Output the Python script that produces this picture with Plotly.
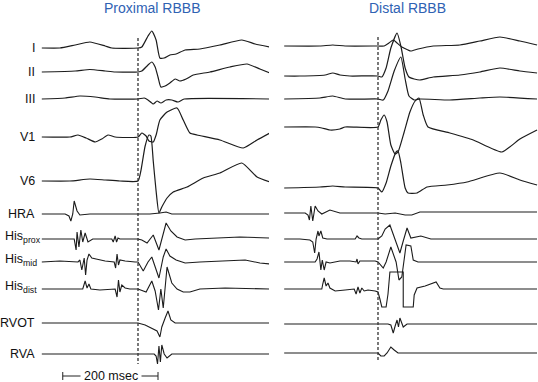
import plotly.graph_objects as go

# ---------------- DATA ----------------
LEAD_LABELS = ["I", "II", "III", "V1", "V6", "HRA",
               "His<sub>prox</sub>", "His<sub>mid</sub>", "His<sub>dist</sub>", "RVOT", "RVA"]
PANEL_TITLES = ["Proximal RBBB", "Distal RBBB"]
SCALE_BAR_MS = 200
SCALE_BAR_START_MS = -158
SCALE_BAR_TEXT = "200 msec"

# Proximal RBBB (time in ms relative to dashed line, amplitude in arbitrary units)
PROX_I_T = [-202, -164, -132, -101, -69, -55, 0, 8, 21, 29, 38, 46, 55, 67, 80, 99, 130, 172, 218, 246, 277]
PROX_I_V = [0, 0, 3, 6, 2, 0, 0, 1, 12, 17, 8, -10, -10, -7, -6, -2, -1, 3, 8, 4, 1]
PROX_II_T = [-202, -132, -101, -69, -48, 0, 8, 21, 29, 36, 42, 48, 57, 67, 78, 88, 101, 116, 151, 193, 229, 256, 277]
PROX_II_V = [0, 1, 2.5, 1, 0, 0, 1, 7, 10, 5, -5, -15, -14, -11, -7, -9, -7, -3, 0, 5, 8, 3, -1]
PROX_III_T = [-202, -153, -122, -90, -59, 0, 13, 21, 32, 40, 48, 59, 71, 84, 97, 277]
PROX_III_V = [0, 1, 3, 2, 0, 0, 1, -1, -5, -2, -4, -1, -1, -3, 0, 0]
PROX_V1_T = [-202, -143, -126, -109, -90, -76, -63, -48, 0, 8, 17, 23, 32, 38, 46, 61, 82, 95, 109, 124, 172, 221, 250, 277]
PROX_V1_V = [0, 0, 2, -1, -5, -2, 2, 0, 0, 4, 1, -4, -5, 2, 17, 25, 29, 17, 4, 2, -3, -11, -3, 4]
PROX_V6_T = [-202, -143, -101, -69, -38, 0, 6, 15, 23, 27, 32, 38, 44, 50, 61, 74, 103, 137, 172, 218, 250, 277]
PROX_V6_V = [0, 0, 2, 1, 0, 0, 10, 35, 46, 45, 20, -10, -32, -26, -17, -11, -6, 3, 8, 18, 4, -1]
PROX_HRA_T = [-202, -153, -145, -141, -137, -134, -128, -122, -101, 25, 46, 59, 71, 277]
PROX_HRA_V = [0, 0, -2, -7, 0, 13, 3, -1, 0, 0, 1, 2, 0, 0]
PROX_HISP_T = [-202, -164, -134, -130, -128, -124, -120, -116, -111, -105, -95, -55, -52, -48, -45, -42, -38,
               0, 8, 19, 32, 44, 59, 69, 82, 99, 120, 214, 277]
PROX_HISP_V = [0, 0, 0, -11, 7, -8, 9, -3, 6, -3, 0, 0, -3, 3, -3, 1, 0,
               0, -1, -4, 4, -11, 16, 8, 2, -1, 0, 2, 1]
PROX_HISM_T = [-202, -164, -126, -122, -118, -113, -110, -107, -103, -97, -88, -69, -50, -47, -44, -41, -38, -27, -6,
               0, 11, 21, 29, 38, 44, 53, 59, 67, 80, 99, 130, 225, 256, 277]
PROX_HISM_V = [0, 1, 0, 2, -8, 4, -13, 2, 8, 4, 3, 1, 0, -6, 8, -3, 2, 1, 0,
               0, -9, 0, 5, -8, -16, 5, 13, 6, 2, -1, 0, 2, -1, -2]
PROX_HISD_T = [-202, -122, -116, -111, -107, -103, -99, -80, -48, -44, -41, -38, -34, -27, -17,
               0, 17, 29, 36, 43, 48, 53, 61, 71, 82, 95, 109, 130, 183, 277]
PROX_HISD_V = [0, 0, 0, 8, 1, 5, 0, -1, 0, -8, 9, -3, 4, 1, 0,
               0, -3, 8, -2, -21, 0, -19, 22, 6, 0, -3, -3, 0, 1, 0]
PROX_RVOT_T = [-202, 0, 15, 29, 40, 46, 50, 57, 63, 69, 78, 277]
PROX_RVOT_V = [0, 0, -2, -5, -8, -14, -4, 5, 12, 3, 0, 0]
PROX_RVA_T = [-202, 34, 38, 41, 44, 47, 50, 55, 61, 71, 277]
PROX_RVA_V = [0, 0, -2, -10, 8, -8, 9, 0, -4, 0, 0]

# Distal RBBB
DIST_I_T = [-197, -122, -95, -69, 0, 13, 23, 32, 40, 50, 63, 69, 84, 116, 172, 214, 256, 298, 334]
DIST_I_V = [0, 0, 1, 0, 0, 0, 3, 6, 3, -1, -4, -5, -3, 0, 1, 5, 9, 5, 1]
DIST_II_T = [-197, -164, -111, -95, -80, -59, 0, 8, 17, 27, 40, 48, 57, 65, 76, 88, 116, 172, 214, 256, 298, 334]
DIST_II_V = [0, 0, 1, 3, 1, 0, 0, -1, 8, 28, 43, 30, 8, -1, -3, -4, -1, 1, 4, 8, 5, 3]
DIST_III_T = [-197, -122, -95, -69, 0, 11, 21, 34, 48, 57, 65, 76, 88, 151, 214, 256, 334]
DIST_III_V = [0, 1, 3, 0, 0, -1, 8, 28, 42, 20, 3, -1, 0, -1, 1, 2, 0]
DIST_V1_T = [-197, -132, -118, -101, -80, -69, 0, 6, 13, 19, 27, 36, 42, 55, 67, 78, 86, 95, 105, 151, 200, 260, 298, 334]
DIST_V1_V = [0, 0, -1, -3, -2, 0, 0, 7, 12, 5, -18, -27, -25, -5, 15, 26, 29, 12, 0, -6, -13, -25, -12, -3]
DIST_V6_T = [-197, -122, -95, -69, 0, 8, 17, 27, 38, 42, 48, 57, 63, 82, 103, 145, 187, 256, 298, 334]
DIST_V6_V = [0, 1, 2, 1, 0, -4, 5, 22, 36, 37, 25, 0, -5, -5, 1, 3, 6, 15, 8, 3]
DIST_HRA_T = [-197, -153, -147, -144, -141, -137, -132, -126, -118, -101, -80, 0, 15, 36, 57, 71, 88, 334]
DIST_HRA_V = [0, 0, -2, -7, 7, -8, 7, 2, -1, 3, 0, 0, -1, 0, -2, -2, 1, 1]
DIST_HISP_T = [-197, -164, -143, -137, -133, -130, -126, -124, -120, -116, -107, -48, -44, -40, -34,
               0, 8, 15, 25, 36, 46, 53, 61, 69, 80, 90, 111, 334]
DIST_HISP_V = [0, 0, -1, -3, -14, 0, 8, 3, 8, 1, 0, 0, 3, 1, 0,
               0, 3, 10, 14, 0, -14, -2, 11, 1, 2, 3, 0, 0]
DIST_HISM_T = [-197, -164, -132, -128, -124, -120, -117, -113, -109, -101, -80, -59, -46, -44, -42, -38, -27, -6,
               0, 11, 17, 27, 38, 44, 50, 55, 59, 69, 74, 84, 334]
DIST_HISM_V = [0, 0, 0, 3, 10, -8, 2, -8, 0, -1, 1, 1, 0, 3, -2, 1, 1, 1,
               0, -6, 0, 15, 0, -18, -15, 5, 17, 16, 2, 0, 0]
DIST_HISD_T = [-197, -118, -116, -113, -109, -105, -101, -90, -69, -50, -46, -42, -38, -34, -29, -21, -6,
               0, 4, 8, 17, 21, 25, 53, 53, 74, 76, 82, 99, 116, 122, 130, 137, 334]
DIST_HISD_V = [0, 0, 5, 11, 3, 6, 1, -2, -1, 0, -5, 2, -4, 1, -2, -1, -2,
               -3, -10, -18, -18, -5, 17, 17, -18, -18, -6, 1, 3, 6, 7, 1, 0, 0]
DIST_RVOT_T = [-197, 21, 27, 32, 36, 40, 43, 46, 53, 61, 334]
DIST_RVOT_V = [0, 0, -1, -9, -2, 4, -3, 6, -3, 0, 0]
DIST_RVA_T = [-197, 0, 6, 13, 19, 27, 34, 42, 334]
DIST_RVA_V = [0, 0, -3, -3, 0, 6, 3, 0, 0]

# ---------------- LAYOUT HELPERS ----------------
W, H = 538, 382
LEFT_ROW_Y = [48, 72, 99, 137, 181, 214, 239, 262, 289, 323, 354]
RIGHT_ROW_Y = [46, 76, 99, 127, 188, 213, 239, 262, 289, 324, 353]
SURFACE = 5  # first five leads are surface ECG

prox = [(PROX_I_T, PROX_I_V), (PROX_II_T, PROX_II_V), (PROX_III_T, PROX_III_V), (PROX_V1_T, PROX_V1_V),
        (PROX_V6_T, PROX_V6_V), (PROX_HRA_T, PROX_HRA_V), (PROX_HISP_T, PROX_HISP_V),
        (PROX_HISM_T, PROX_HISM_V), (PROX_HISD_T, PROX_HISD_V), (PROX_RVOT_T, PROX_RVOT_V),
        (PROX_RVA_T, PROX_RVA_V)]
dist = [(DIST_I_T, DIST_I_V), (DIST_II_T, DIST_II_V), (DIST_III_T, DIST_III_V), (DIST_V1_T, DIST_V1_V),
        (DIST_V6_T, DIST_V6_V), (DIST_HRA_T, DIST_HRA_V), (DIST_HISP_T, DIST_HISP_V),
        (DIST_HISM_T, DIST_HISM_V), (DIST_HISD_T, DIST_HISD_V), (DIST_RVOT_T, DIST_RVOT_V),
        (DIST_RVA_T, DIST_RVA_V)]

LINE_COLOR = "#1c1c1c"
fig = go.Figure()

for panel, rows, xa in ((prox, LEFT_ROW_Y, "x"), (dist, RIGHT_ROW_Y, "x2")):
    for i, ((t, v), base) in enumerate(zip(panel, rows)):
        if i < SURFACE:
            line = dict(color=LINE_COLOR, width=1.2, shape="spline", smoothing=0.5)
        else:
            line = dict(color=LINE_COLOR, width=1.1, shape="linear")
        fig.add_trace(go.Scatter(
            x=t, y=[a - base for a in v], mode="lines", xaxis=xa, yaxis="y",
            line=line, hoverinfo="skip", showlegend=False))

# scale bar
sb0, sb1 = SCALE_BAR_START_MS, SCALE_BAR_START_MS + SCALE_BAR_MS
SB_Y = 376
fig.add_trace(go.Scatter(
    x=[sb0, sb0, None, sb0, sb1, None, sb1, sb1],
    y=[-SB_Y + 4, -SB_Y - 4, None, -SB_Y, -SB_Y, None, -SB_Y + 4, -SB_Y - 4],
    mode="lines", xaxis="x", yaxis="y", line=dict(color="#222", width=1),
    hoverinfo="skip", showlegend=False))

FONT = "Liberation Sans, Arial, Helvetica, sans-serif"
annotations = []
annotations.append(dict(x=(sb0 + sb1) / 2 + 2, y=-SB_Y, xref="x", yref="y", text=SCALE_BAR_TEXT,
                        showarrow=False, font=dict(family=FONT, size=12.5, color="#111"),
                        bgcolor="white", borderpad=3))
# titles
annotations.append(dict(x=29, y=-8, xref="x", yref="y", text=PANEL_TITLES[0], showarrow=False,
                        font=dict(family=FONT, size=14, color="#2f62b3")))
annotations.append(dict(x=61, y=-8, xref="x2", yref="y", text=PANEL_TITLES[1], showarrow=False,
                        font=dict(family=FONT, size=14, color="#2f62b3")))
# lead labels
for lab, base in zip(LEAD_LABELS, LEFT_ROW_Y):
    if lab.startswith("His"):
        annotations.append(dict(x=3 / W, y=-base + 2, xref="paper", yref="y", text=lab, showarrow=False,
                                xanchor="left", yanchor="middle",
                                font=dict(family=FONT, size=12.5, color="#111")))
    else:
        annotations.append(dict(x=37 / W, y=-base, xref="paper", yref="y", text=lab, showarrow=False,
                                xanchor="right", yanchor="middle",
                                font=dict(family=FONT, size=12.5, color="#111")))

# dashed reference lines at t = 0
shapes = [
    dict(type="line", xref="x", yref="y", x0=0, x1=0, y0=-38, y1=-364,
         line=dict(color="#333", width=1.3, dash="3px,2px")),
    dict(type="line", xref="x2", yref="y", x0=0, x1=0, y0=-37, y1=-362,
         line=dict(color="#333", width=1.3, dash="3px,2px")),
]

MS_PER_PX = 2.1
fig.update_layout(
    width=W, height=H, margin=dict(l=0, r=0, t=0, b=0),
    paper_bgcolor="white", plot_bgcolor="white",
    xaxis=dict(domain=[0, 0.5], range=[-138 * MS_PER_PX, 131 * MS_PER_PX], visible=False, fixedrange=True),
    xaxis2=dict(domain=[0.5, 1], range=[-109 * MS_PER_PX, 160 * MS_PER_PX], visible=False, fixedrange=True),
    yaxis=dict(domain=[0, 1], range=[-H, 0], visible=False, fixedrange=True),
    annotations=annotations, shapes=shapes,
)

fig.write_html("out.html", config={"displayModeBar": False},
               post_script="document.body.style.margin='0';document.body.style.padding='0';"
                           "document.body.style.overflow='hidden';")
